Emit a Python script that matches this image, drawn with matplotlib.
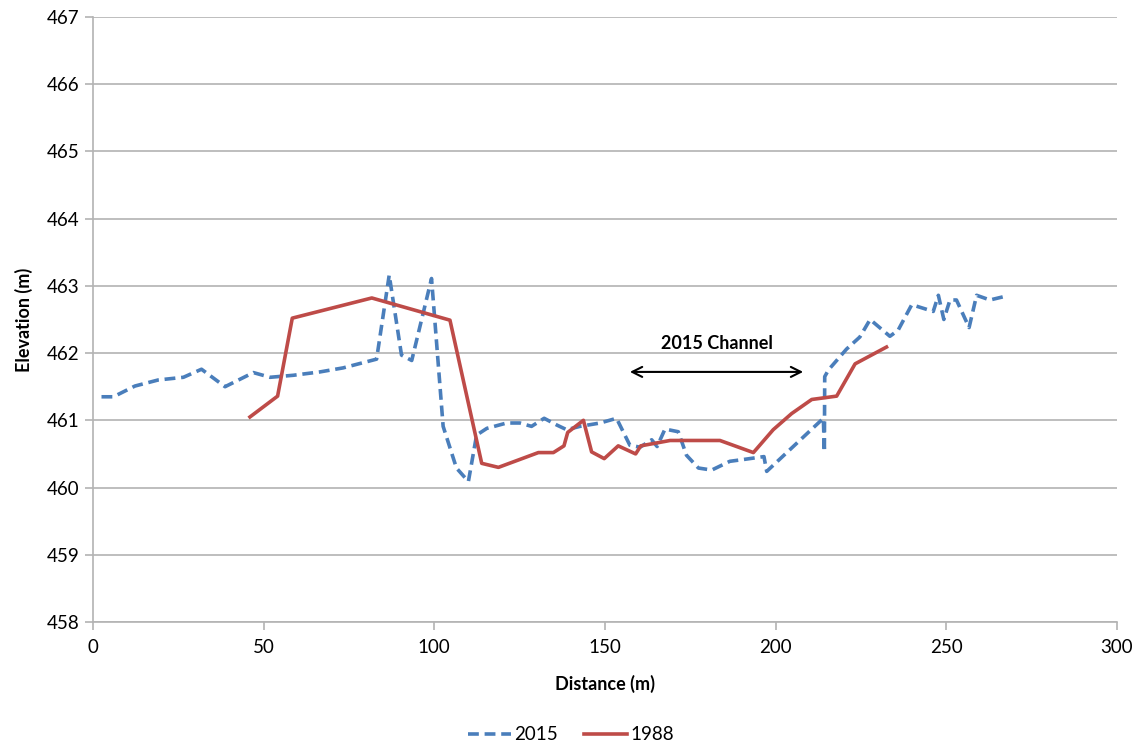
import matplotlib.pyplot as plt

plt.rcParams['font.family'] = ['Lato', 'DejaVu Sans']

# 2015 survey profile
dist_2015 = [2.5, 6.0, 12.3, 19.1, 26.5, 31.8, 38.7, 47.0, 51.9, 58.7, 66.5, 73.3, 83.1,
             86.8, 90.4, 93.4, 99.2, 102.6, 106.5, 110.0, 112.4, 115.4, 121.2, 125.1,
             128.5, 132.2, 135.9, 138.8, 142.7, 148.6, 153.4, 157.3, 160.3, 163.7, 165.3,
             167.6, 171.5, 173.9, 177.4, 181.3, 186.6, 191.0, 196.6, 197.4, 214.0, 214.3,
             214.4, 215.5, 220.8, 224.7, 227.7, 233.5, 235.9, 239.9, 246.2, 247.7, 249.3,
             251.1, 253.0, 256.7, 258.9, 262.8, 267.7]
elev_2015 = [461.35, 461.35, 461.51, 461.60, 461.64, 461.76, 461.50, 461.71, 461.64, 461.67,
             461.72, 461.78, 461.91, 463.16, 461.97, 461.89, 463.11, 460.91, 460.29, 460.09,
             460.78, 460.88, 460.96, 460.96, 460.91, 461.03, 460.93, 460.86, 460.91, 460.96,
             461.03, 460.63, 460.60, 460.71, 460.61, 460.87, 460.83, 460.48, 460.29, 460.26,
             460.39, 460.42, 460.46, 460.24, 461.03, 460.53, 461.65, 461.75, 462.06, 462.24,
             462.50, 462.25, 462.34, 462.72, 462.62, 462.86, 462.50, 462.79, 462.79, 462.38,
             462.86, 462.79, 462.85]

# 1988 survey profile
dist_1988 = [46.0, 54.1, 58.4, 81.7, 104.6, 113.9, 118.8, 130.5, 134.9, 138.0, 139.1,
             143.7, 146.1, 149.8, 153.9, 159.0, 160.5, 169.1, 183.7, 193.5, 199.3, 204.7,
             210.6, 217.9, 223.3, 232.5]
elev_1988 = [461.05, 461.36, 462.52, 462.82, 462.49, 460.36, 460.30, 460.52, 460.52, 460.62,
             460.82, 461.00, 460.53, 460.43, 460.62, 460.50, 460.62, 460.70, 460.70, 460.52,
             460.86, 461.10, 461.31, 461.36, 461.84, 462.09]

channel_start = 156.5
channel_end = 208.9
channel_elev = 461.72
channel_label = "2015 Channel"

fig = plt.figure(figsize=(11.42, 7.49), dpi=100)
ax = fig.add_axes([0.0814, 0.1696, 0.8966, 0.8077])

ax.plot(dist_2015, elev_2015, color='#4a7ebb', lw=2.6, linestyle=(0, (3, 1.6)), label='2015')
ax.plot(dist_1988, elev_1988, color='#be4b48', lw=2.6, label='1988')

ax.annotate('', xy=(channel_end, channel_elev), xytext=(channel_start, channel_elev),
            arrowprops=dict(arrowstyle='<->', color='black', lw=1.5, mutation_scale=18))
ax.text((channel_start + channel_end) / 2, channel_elev + 0.43, channel_label,
        ha='center', va='center', fontsize=13, fontweight='bold')

ax.set_xlim(0, 300)
ax.set_ylim(458, 467)
ax.set_xticks(range(0, 301, 50))
ax.set_yticks(range(458, 468))
ax.grid(axis='y', color='#b3b3b3', lw=1.2)
ax.set_axisbelow(True)
for side in ['top', 'right']:
    ax.spines[side].set_visible(False)
for side in ['left', 'bottom']:
    ax.spines[side].set_color('#b3b3b3')
    ax.spines[side].set_linewidth(1.2)
ax.tick_params(axis='both', labelsize=13.5, colors='#b3b3b3', labelcolor='black',
               length=6, width=1.2)
ax.tick_params(axis='x', pad=6)

ax.set_xlabel('Distance (m)', fontsize=13, fontweight='bold', labelpad=14)
ax.set_ylabel('Elevation (m)', fontsize=13, fontweight='bold', labelpad=10)

# legend is centred on the figure, not the axes
handles, labels = ax.get_legend_handles_labels()
fig.legend(handles, labels, loc='center', bbox_to_anchor=(0.5, 0.019), ncol=2, frameon=False,
           fontsize=13.5, handlelength=2.3, columnspacing=1.4, handletextpad=0.15)

fig.savefig('out.png', dpi=100)
